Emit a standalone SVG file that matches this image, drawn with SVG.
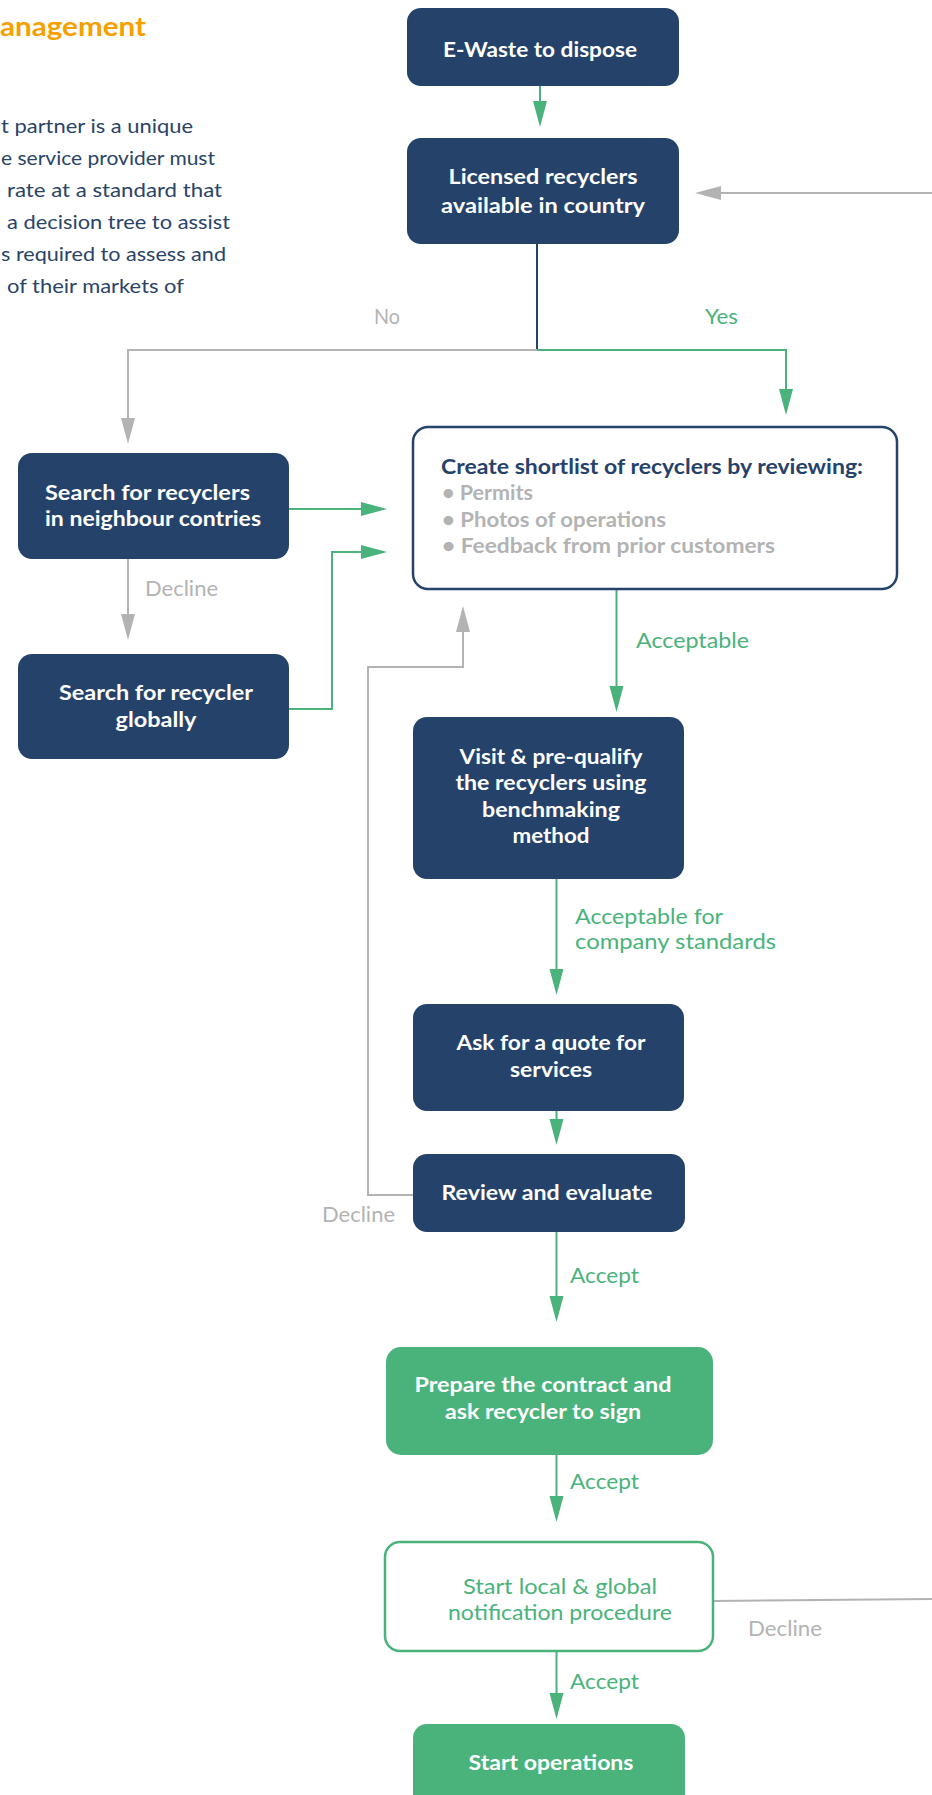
<svg xmlns="http://www.w3.org/2000/svg" width="932" height="1795" viewBox="0 0 932 1795">
<defs>
<style>
text{font-family:Lato,"Open Sans","Liberation Sans",sans-serif}
.nb{fill:#25426A}
.gb{fill:#49B37B}
.wt{fill:#fff;font-weight:700;font-size:21px}
.c{text-anchor:middle}
.lbg{fill:#B3B3B3;font-size:21.5px}
.lbgr{fill:#49B37B;font-size:21.5px}
.ln{fill:none;stroke-width:2}
.g{stroke:#49B37B}
.gy{stroke:#B3B3B3}
.body{fill:#2A4468;font-size:20px}
.bul{fill:#B3B3B3;font-weight:700;font-size:21px}
</style>
<marker id="ag" markerUnits="userSpaceOnUse" markerWidth="26" markerHeight="14" refX="0" refY="7" orient="auto" overflow="visible"><path d="M0,0 L26,7 L0,14 z" fill="#49B37B"/></marker>
<marker id="ay" markerUnits="userSpaceOnUse" markerWidth="26" markerHeight="14" refX="0" refY="7" orient="auto" overflow="visible"><path d="M0,0 L26,7 L0,14 z" fill="#B3B3B3"/></marker>
</defs>
<rect width="932" height="1795" fill="#fff"/>

<g id="intro">
<text x="0" y="36" textLength="146" lengthAdjust="spacingAndGlyphs" style="fill:#F5A000;font-size:26px;font-weight:700">anagement</text>
<text class="body" x="1" y="133" textLength="192" lengthAdjust="spacingAndGlyphs">t partner is a unique</text>
<text class="body" x="1" y="165" textLength="214" lengthAdjust="spacingAndGlyphs">e service provider must</text>
<text class="body" x="7" y="197" textLength="215" lengthAdjust="spacingAndGlyphs">rate at a standard that</text>
<text class="body" x="7" y="229" textLength="223" lengthAdjust="spacingAndGlyphs">a decision tree to assist</text>
<text class="body" x="1" y="261" textLength="225" lengthAdjust="spacingAndGlyphs">s required to assess and</text>
<text class="body" x="7" y="293" textLength="177" lengthAdjust="spacingAndGlyphs">of their markets of</text>
</g>

<g id="connectors">
<path class="ln g" d="M540,86 V101" marker-end="url(#ag)"/>
<path class="ln gy" d="M932,193 H721" marker-end="url(#ay)"/>
<path class="ln" stroke="#25426A" d="M537,244 V350"/>
<path class="ln gy" d="M537,350 H128 V418" marker-end="url(#ay)"/>
<path class="ln g" d="M537,350 H786 V389" marker-end="url(#ag)"/>
<path class="ln g" d="M289,509 H361" marker-end="url(#ag)"/>
<path class="ln gy" d="M128,559 V614" marker-end="url(#ay)"/>
<path class="ln g" d="M289,709 H332 V552 H361" marker-end="url(#ag)"/>
<path class="ln g" d="M616.5,589 V686" marker-end="url(#ag)"/>
<path class="ln gy" d="M413,1195 H368 V667 H463 V632" marker-end="url(#ay)"/>
<path class="ln g" d="M556.5,879 V969" marker-end="url(#ag)"/>
<path class="ln g" d="M556.5,1111 V1119" marker-end="url(#ag)"/>
<path class="ln g" d="M556.5,1232 V1296" marker-end="url(#ag)"/>
<path class="ln g" d="M556.5,1455 V1496" marker-end="url(#ag)"/>
<path class="ln gy" d="M713,1601 L932,1599"/>
<path class="ln g" d="M556.5,1651 V1693" marker-end="url(#ag)"/>
<text class="lbg" x="374" y="324" textLength="26" lengthAdjust="spacingAndGlyphs">No</text>
<text class="lbgr" x="705" y="324" textLength="33" lengthAdjust="spacingAndGlyphs">Yes</text>
<text class="lbg" x="145" y="596" textLength="73" lengthAdjust="spacingAndGlyphs">Decline</text>
<text class="lbgr" x="636" y="648" textLength="113" lengthAdjust="spacingAndGlyphs">Acceptable</text>
<text class="lbgr" x="575" y="924" textLength="148" lengthAdjust="spacingAndGlyphs">Acceptable for</text>
<text class="lbgr" x="575" y="949" textLength="201" lengthAdjust="spacingAndGlyphs">company standards</text>
<text class="lbg" x="322" y="1222" textLength="73" lengthAdjust="spacingAndGlyphs">Decline</text>
<text class="lbgr" x="570" y="1283" textLength="69" lengthAdjust="spacingAndGlyphs">Accept</text>
<text class="lbgr" x="570" y="1489" textLength="69" lengthAdjust="spacingAndGlyphs">Accept</text>
<text class="lbg" x="748" y="1636" textLength="74" lengthAdjust="spacingAndGlyphs">Decline</text>
<text class="lbgr" x="570" y="1689" textLength="69" lengthAdjust="spacingAndGlyphs">Accept</text>
</g>

<g id="n-ewaste">
<rect class="nb" x="407" y="8" width="272" height="78" rx="14"/>
<text class="wt c" x="540" y="57" textLength="194" lengthAdjust="spacingAndGlyphs">E-Waste to dispose</text>
</g>
<g id="n-licensed">
<rect class="nb" x="407" y="138" width="272" height="106" rx="14"/>
<text class="wt c" x="543" y="184" textLength="189" lengthAdjust="spacingAndGlyphs">Licensed recyclers</text>
<text class="wt c" x="543" y="213" textLength="204" lengthAdjust="spacingAndGlyphs">available in country</text>
</g>
<g id="n-neighbour">
<rect class="nb" x="18" y="453" width="271" height="106" rx="14"/>
<text class="wt" x="45" y="500" textLength="205" lengthAdjust="spacingAndGlyphs">Search for recyclers</text>
<text class="wt" x="45" y="526" textLength="216" lengthAdjust="spacingAndGlyphs">in neighbour contries</text>
</g>
<g id="n-global">
<rect class="nb" x="18" y="654" width="271" height="105" rx="14"/>
<text class="wt c" x="156" y="700" textLength="194" lengthAdjust="spacingAndGlyphs">Search for recycler</text>
<text class="wt c" x="156" y="727" textLength="81" lengthAdjust="spacingAndGlyphs">globally</text>
</g>
<g id="n-shortlist">
<rect x="413" y="427" width="484" height="162" rx="15" fill="#fff" stroke="#25426A" stroke-width="2.5"/>
<text x="441" y="474" textLength="422" lengthAdjust="spacingAndGlyphs" style="fill:#25426A;font-weight:700;font-size:21px">Create shortlist of recyclers by reviewing:</text>
<text class="bul" x="442" y="500" textLength="91" lengthAdjust="spacingAndGlyphs">• Permits</text>
<text class="bul" x="442" y="527" textLength="224" lengthAdjust="spacingAndGlyphs">• Photos of operations</text>
<text class="bul" x="442" y="553" textLength="333" lengthAdjust="spacingAndGlyphs">• Feedback from prior customers</text>
</g>
<g id="n-visit">
<rect class="nb" x="413" y="717" width="271" height="162" rx="14"/>
<text class="wt c" x="551" y="764" textLength="183" lengthAdjust="spacingAndGlyphs">Visit &amp; pre-qualify</text>
<text class="wt c" x="551" y="790" textLength="191" lengthAdjust="spacingAndGlyphs">the recyclers using</text>
<text class="wt c" x="551" y="817" textLength="138" lengthAdjust="spacingAndGlyphs">benchmaking</text>
<text class="wt c" x="551" y="843" textLength="77" lengthAdjust="spacingAndGlyphs">method</text>
</g>
<g id="n-quote">
<rect class="nb" x="413" y="1004" width="271" height="107" rx="14"/>
<text class="wt c" x="551" y="1050" textLength="189" lengthAdjust="spacingAndGlyphs">Ask for a quote for</text>
<text class="wt c" x="551" y="1077" textLength="82" lengthAdjust="spacingAndGlyphs">services</text>
</g>
<g id="n-review">
<rect class="nb" x="413" y="1154" width="272" height="78" rx="14"/>
<text class="wt c" x="547" y="1200" textLength="211" lengthAdjust="spacingAndGlyphs">Review and evaluate</text>
</g>
<g id="n-contract">
<rect class="gb" x="386" y="1347" width="327" height="108" rx="15"/>
<text class="wt c" x="543" y="1392" textLength="257" lengthAdjust="spacingAndGlyphs">Prepare the contract and</text>
<text class="wt c" x="543" y="1419" textLength="196" lengthAdjust="spacingAndGlyphs">ask recycler to sign</text>
</g>
<g id="n-notification">
<rect x="385" y="1542" width="328" height="109" rx="15" fill="#fff" stroke="#49B37B" stroke-width="2.5"/>
<text class="c" x="560" y="1594" textLength="194" lengthAdjust="spacingAndGlyphs" style="fill:#49B37B;font-size:21.5px">Start local &amp; global</text>
<text class="c" x="560" y="1620" textLength="224" lengthAdjust="spacingAndGlyphs" style="fill:#49B37B;font-size:21.5px">notification procedure</text>
</g>
<g id="n-start">
<rect class="gb" x="413" y="1724" width="272" height="100" rx="14"/>
<text class="wt c" x="551" y="1770" textLength="165" lengthAdjust="spacingAndGlyphs">Start operations</text>
</g>
</svg>
